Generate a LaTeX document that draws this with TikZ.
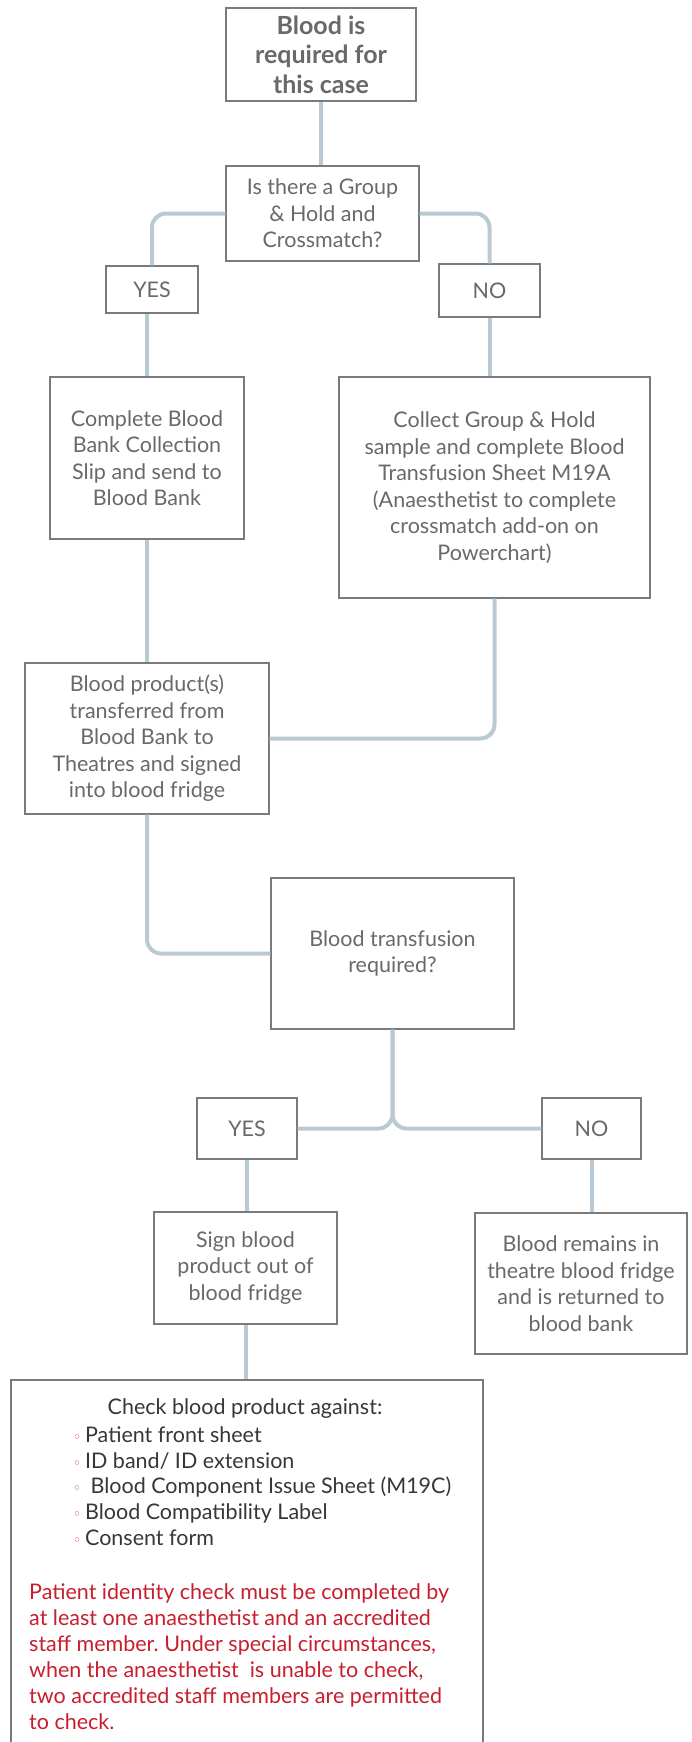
\documentclass[tikz,border=0pt]{standalone}
\usepackage{fontspec}
\setmainfont{Lato}
\newfontfamily\symfont{DejaVu Sans}
\frenchspacing
\definecolor{boxc}{RGB}{122,122,122}
\definecolor{txtc}{RGB}{105,105,105}
\definecolor{darktxt}{RGB}{55,55,55}
\definecolor{linec}{RGB}{186,202,212}
\definecolor{redtxt}{RGB}{200,30,45}
\definecolor{bulc}{RGB}{205,85,100}
\newcommand{\bulmark}{{\color{bulc}\symfont\fontsize{15}{15}\selectfont ◦}}
\tikzset{
  box/.style={draw=boxc, line width=1.3pt, inner sep=0pt, align=center, text=txtc,
              font=\fontsize{21.5}{26.5}\selectfont},
  conn/.style={draw=linec, line width=4pt, rounded corners=14pt},
  plain/.style={inner sep=0pt},
}
\begin{document}
\begin{tikzpicture}[x=1pt,y=-1pt]
\useasboundingbox (0,0) rectangle (691,1742);
\fill[white] (0,0) rectangle (691,1742);
\clip (0,0) rectangle (691,1742);

\node[box, minimum width=190pt, minimum height=93pt, font=\bfseries\fontsize{25}{29.5}\selectfont] (b1) at (321,54.5) {Blood is\\required for\\this case};
\node[box, minimum width=193pt, minimum height=95pt] (q1) at (322.5,213.5) {Is there a Group\\\& Hold and\\Crossmatch?};
\node[box, minimum width=92pt, minimum height=47pt] (yes1) at (152,289.5) {YES};
\node[box, minimum width=101pt, minimum height=53pt] (no1) at (489.5,290.5) {NO};
\node[box, minimum width=194pt, minimum height=162pt] (complete) at (147,458) {Complete Blood\\Bank Collection\\Slip and send to\\Blood Bank};
\node[box, minimum width=311pt, minimum height=221pt] (collect) at (494.5,487.5) {Collect Group \& Hold\\sample and complete Blood\\Transfusion Sheet M19A\\(Anaesthetist to complete\\crossmatch add-on on\\Powerchart)};
\node[box, minimum width=244pt, minimum height=151pt] (bp) at (147,738.5) {Blood product(s)\\transferred from\\Blood Bank to\\Theatres and signed\\into blood fridge};
\node[box, minimum width=243pt, minimum height=151pt] (trans) at (392.5,953.5) {Blood transfusion\\required?};
\node[box, minimum width=100pt, minimum height=61pt] (yes2) at (247,1128.5) {YES};
\node[box, minimum width=99pt, minimum height=61pt] (no2) at (591.5,1128.5) {NO};
\node[box, minimum width=183pt, minimum height=112pt] (sign) at (245.5,1268) {Sign blood\\product out of\\blood fridge};
\node[box, minimum width=212pt, minimum height=141pt] (remains) at (581,1283.5) {Blood remains in\\theatre blood fridge\\and is returned to\\blood bank};
\node[box, minimum width=472pt, minimum height=390pt] (check) at (247,1575) {};

\node[plain, text=darktxt, font=\fontsize{21.5}{25.8}\selectfont] (checkhead) at (245,1409) {Check blood product against:};
\node[plain, anchor=west, align=left, text=darktxt, font=\fontsize{21.5}{25.8}\selectfont] (checklist) at (72.5,1486)
 {\bulmark\,Patient front sheet\\
  \bulmark\,ID band/ ID extension\\
  \bulmark\ \,Blood Component Issue Sheet (M19C)\\
  \bulmark\,Blood Compatibility Label\\
  \bulmark\,Consent form};
\node[plain, anchor=west, align=left, text=redtxt, font=\fontsize{21.5}{26}\selectfont] (checknote) at (29,1657)
 {Patient identity check must be completed by\\
  at least one anaesthetist and an accredited\\
  staff member. Under special circumstances,\\
  when the anaesthetist\ \ is unable to check,\\
  two accredited staff members are permitted\\
  to check.};

\draw[conn] (b1.south) -- (b1.south |- q1.north);
\draw[conn] (q1.west) -| (yes1.north);
\draw[conn] (q1.east) -| (no1.north);
\draw[conn] (complete.north |- yes1.south) -- (complete.north);
\draw[conn] (no1.south) -- (no1.south |- collect.north);
\draw[conn] (complete.south) -- (complete.south |- bp.north);
\draw[conn] (collect.south) |- (bp.east);
\draw[conn] (bp.south) |- (trans.west);
\draw[conn] (trans.south) |- (yes2.east);
\draw[conn] (trans.south) |- (no2.west);
\draw[conn] (yes2.south) -- (yes2.south |- sign.north);
\draw[conn] (no2.south) -- (no2.south |- remains.north);
\draw[conn] (sign.south) -- (sign.south |- check.north);
\end{tikzpicture}
\end{document}
